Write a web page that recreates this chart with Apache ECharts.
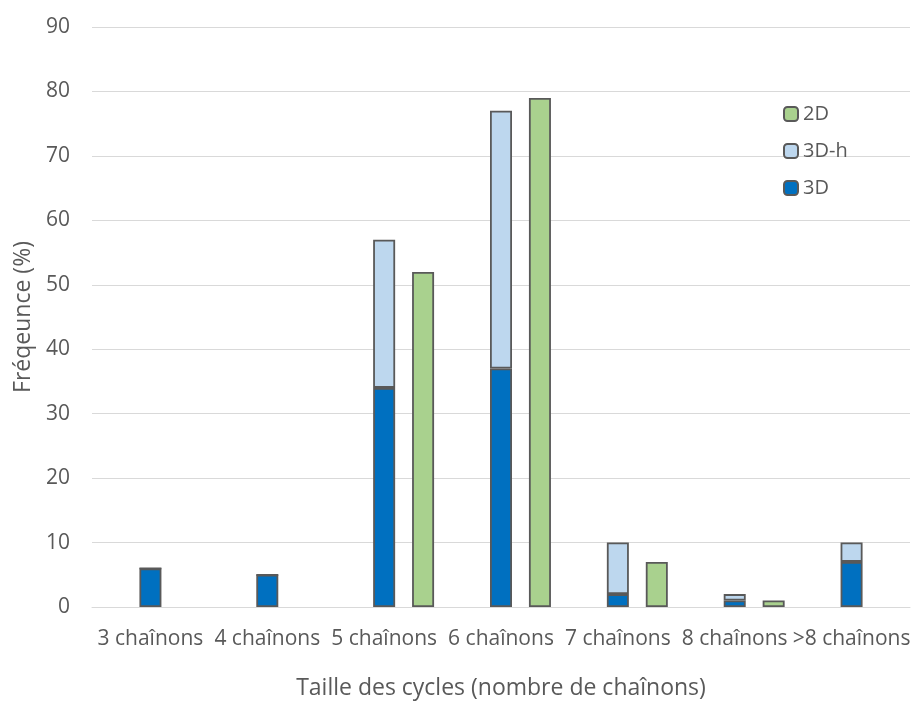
<!DOCTYPE html>
<html><head><meta charset="utf-8">
<script src="https://cdn.jsdelivr.net/npm/echarts@6/dist/echarts.min.js"></script>
<style>html,body{margin:0;padding:0;background:#fff}#c{width:912px;height:701px}</style>
</head><body><div id="c"></div>
<script>
const categories = ['3 chaînons','4 chaînons','5 chaînons','6 chaînons','7 chaînons','8 chaînons','>8 chaînons'];
const v3D  = [6, 5, 34, 37, 2, 1, 7];
const v3Dh = [0, 0, 23, 40, 8, 1, 3];
const v2D  = [null, null, 52, 79, 7, 1, null];
const spacer = categories.map(() => null);
const yTicks = {min: 0, max: 90, interval: 10};

const txt = '#595959';
const font = 'Open Sans';
const border = {borderColor: '#595959', borderWidth: 1.8};
const chart = echarts.init(document.getElementById('c'));
chart.setOption({
  animation: false,
  textStyle: {fontFamily: font, color: txt},
  grid: {left: 92, right: 2, top: 27, bottom: 94, containLabel: false, outerBoundsMode: 'none'},
  legend: {
    data: ['2D', '3D-h', '3D'], orient: 'vertical', left: 783, top: 104, padding: 0,
    itemWidth: 14, itemHeight: 14, itemGap: 17,
    textStyle: {fontFamily: font, color: txt, fontSize: 20}
  },
  xAxis: {
    type: 'category', data: categories,
    axisLine: {lineStyle: {color: '#d9d9d9', width: 1}},
    axisTick: {show: false},
    axisLabel: {color: txt, fontSize: 21, margin: 22, interval: 0, fontFamily: font},
    name: 'Taille des cycles (nombre de chaînons)', nameLocation: 'middle', nameGap: 70,
    nameTextStyle: {color: txt, fontSize: 23, fontFamily: font}
  },
  yAxis: {
    type: 'value', min: yTicks.min, max: yTicks.max, interval: yTicks.interval,
    axisLine: {show: false}, axisTick: {show: false},
    splitLine: {lineStyle: {color: '#d9d9d9', width: 1}},
    axisLabel: {color: txt, fontSize: 21, margin: 22, fontFamily: font},
    name: 'Fréqeunce (%)', nameLocation: 'middle', nameGap: 54, nameRotate: 90,
    nameTextStyle: {color: txt, fontSize: 23, fontFamily: font}
  },
  series: [
    {name: '', type: 'bar', data: spacer, barWidth: 22, barGap: '77%', silent: true},
    {name: '3D', type: 'bar', stack: 'a', data: v3D, barWidth: 22, barGap: '77%',
      itemStyle: Object.assign({color: '#0070C0'}, border)},
    {name: '3D-h', type: 'bar', stack: 'a', data: v3Dh, barWidth: 22, barGap: '77%',
      itemStyle: Object.assign({color: '#BDD7EE'}, border)},
    {name: '2D', type: 'bar', data: v2D, barWidth: 22, barGap: '77%',
      itemStyle: Object.assign({color: '#A9D18E'}, border)}
  ]
});
</script></body></html>
